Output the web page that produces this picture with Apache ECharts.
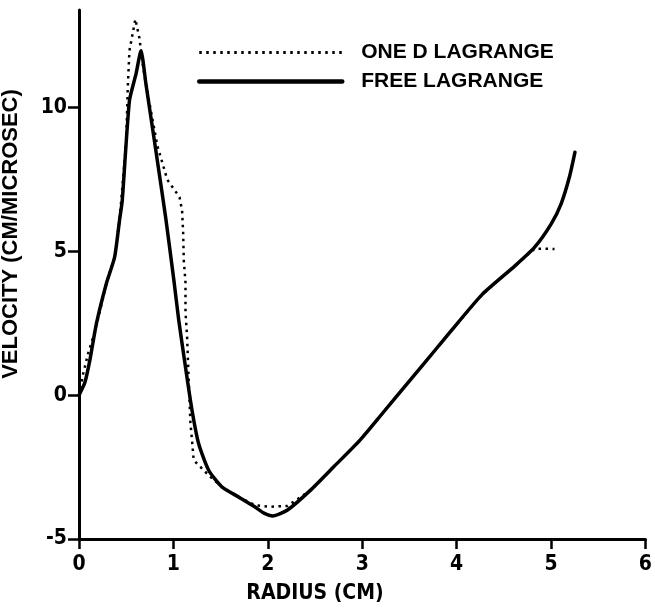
<!DOCTYPE html>
<html><head><meta charset="utf-8">
<script src="https://cdn.jsdelivr.net/npm/echarts@6/dist/echarts.min.js"></script>
<style>html,body{margin:0;padding:0;background:#fff}#c{width:655px;height:609px}</style>
</head><body><div id="c"></div>
<script>
// ---- data ----
const xTicks = [0, 1, 2, 3, 4, 5, 6];
const yTicks = [-5, 0, 5, 10];
const seriesNames = ['ONE D LAGRANGE', 'FREE LAGRANGE'];

const freeRadius = [0.0, 0.063, 0.115, 0.185, 0.29, 0.377, 0.429, 0.458, 0.534, 0.604, 0.657, 0.709, 0.814, 0.918, 1.005, 1.057, 1.128, 1.197, 1.267, 1.372, 1.511, 1.686, 1.861, 1.96, 2.052, 2.209, 2.453, 2.698, 2.977, 3.222, 3.501, 3.78, 3.919, 4.269, 4.618, 4.827, 5.002, 5.107, 5.194, 5.253];
const freeVelocity = [0.0, 0.45, 1.22, 2.5, 3.89, 4.8, 6.08, 6.77, 10.24, 11.18, 11.98, 10.83, 8.51, 6.18, 4.0, 2.6, 0.98, -0.52, -1.68, -2.6, -3.18, -3.53, -3.88, -4.1, -4.2, -3.99, -3.3, -2.49, -1.56, -0.6, 0.5, 1.6, 2.15, 3.5, 4.5, 5.15, 5.96, 6.66, 7.58, 8.45];

const oneDRadius = [0.0, 0.045, 0.097, 0.15, 0.22, 0.29, 0.377, 0.429, 0.5, 0.516, 0.534, 0.597, 0.639, 0.68, 0.709, 0.83, 0.935, 1.065, 1.092, 1.103, 1.11, 1.128, 1.128, 1.145, 1.162, 1.18, 1.197, 1.215, 1.319, 1.372, 1.511, 1.686, 1.861, 2.018, 2.209, 2.453, 2.698, 2.977, 3.222, 3.501, 3.78, 3.919, 4.269, 4.618, 4.827, 5.037];
const oneDVelocity = [0.0, 0.76, 1.46, 2.02, 2.9, 3.89, 4.8, 6.08, 8.8, 10.65, 11.98, 13.08, 12.44, 11.4, 10.83, 8.68, 7.5, 6.89, 6.42, 5.67, 4.69, 3.93, 2.9, 2.02, 0.52, -0.95, -1.56, -2.26, -2.6, -2.78, -3.18, -3.53, -3.82, -3.88, -3.85, -3.3, -2.49, -1.56, -0.6, 0.5, 1.6, 2.15, 3.5, 4.5, 5.1, 5.09];

const zip = (xs, ys) => xs.map((x, i) => [x, ys[i]]);

const FN = "'Liberation Sans Narrow', 'DejaVu Sans Condensed', 'Liberation Sans', sans-serif";
const FW = "'Liberation Sans', 'DejaVu Sans', sans-serif";

const chart = echarts.init(document.getElementById('c'), null, {renderer: 'canvas'});
chart.setOption({
  backgroundColor: '#fff',
  animation: false,
  grid: {left: 79, right: 3, top: 10, bottom: 70, containLabel: false},
  legend: {
    left: 197, top: 42, orient: 'vertical', padding: 0,
    itemWidth: 143, itemHeight: 20, itemGap: 8,
    itemStyle: {opacity: 0},
    textStyle: {fontFamily: FW, fontWeight: 'bold', fontSize: 21, color: '#000', padding: [0, 0, 0, 14]},
    data: [
      {name: seriesNames[0], lineStyle: {width: 3, type: [2.5, 4.5]}},
      {name: seriesNames[1], lineStyle: {width: 4.5}}
    ]
  },
  xAxis: {
    type: 'value', min: 0, max: 6, interval: 1,
    axisLine: {onZero: false, lineStyle: {color: '#000', width: 3}},
    axisTick: {show: true, length: 10, lineStyle: {color: '#000', width: 2.5}, customValues: xTicks},
    axisLabel: {color: '#000', fontFamily: FN, fontWeight: 'bold', fontSize: 21, margin: 15, customValues: xTicks},
    splitLine: {show: false}
  },
  yAxis: {
    type: 'value', min: -5, max: 13.4, interval: 5,
    axisLine: {show: true, onZero: false, lineStyle: {color: '#000', width: 3}},
    axisTick: {show: true, length: 11, lineStyle: {color: '#000', width: 2.5}, customValues: yTicks},
    axisLabel: {color: '#000', fontFamily: FN, fontWeight: 'bold', fontSize: 21, margin: 12, customValues: yTicks},
    splitLine: {show: false}
  },
  graphic: [
    {type: 'text', x: 315, y: 594,
     style: {text: 'RADIUS (CM)', fontFamily: FN, fontWeight: 'bold', fontSize: 21, fill: '#000', align: 'center', verticalAlign: 'middle'}},
    {type: 'text', rotation: Math.PI / 2, x: 11, y: 234,
     style: {text: 'VELOCITY (CM/MICROSEC)', fontFamily: FW, fontWeight: 'bold', fontSize: 22, fill: '#000', align: 'center', verticalAlign: 'middle'}}
  ],
  series: [
    {
      name: seriesNames[1], type: 'line', symbol: 'none', z: 2, smooth: 0.2,
      data: zip(freeRadius, freeVelocity),
      lineStyle: {color: '#000', width: 3.5, cap: 'round', join: 'round'},
      itemStyle: {color: '#000'}
    },
    {
      name: seriesNames[0], type: 'line', symbol: 'none', z: 3,
      data: zip(oneDRadius, oneDVelocity),
      lineStyle: {color: '#000', width: 2.5, type: [2.5, 4.5]},
      itemStyle: {color: '#000'}
    }
  ]
});
</script>
</body></html>
